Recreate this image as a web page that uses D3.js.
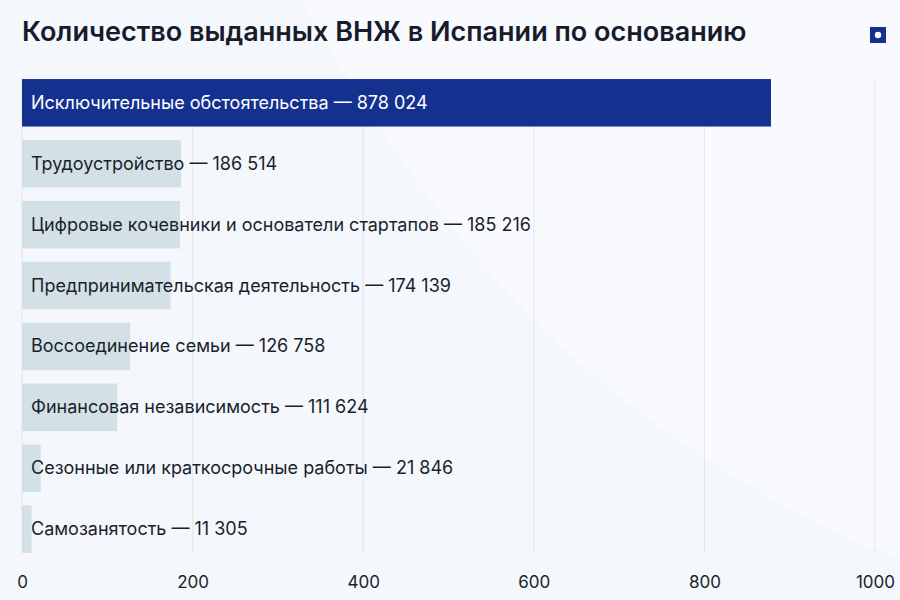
<!DOCTYPE html>
<html><head><meta charset="utf-8">
<script src="https://cdn.jsdelivr.net/npm/d3@7"></script>
<style>body{margin:0;background:#f4f7fb;font-family:Inter,"Noto Sans",sans-serif}</style>
</head><body>
<script>
var categories = ["Исключительные обстоятельства","Трудоустройство","Цифровые кочевники и основатели стартапов","Предпринимательская деятельность","Воссоединение семьи","Финансовая независимость","Сезонные или краткосрочные работы","Самозанятость"];
var values = [878024,186514,185216,174139,126758,111624,21846,11305];
var labels = ["878 024","186 514","185 216","174 139","126 758","111 624","21 846","11 305"];
var ticks = [0,200,400,600,800,1000];

var w = 900, h = 600;
var svg = d3.select("body").append("svg").attr("width", w).attr("height", h);

svg.append("rect").attr("width", w).attr("height", h).attr("fill", "#f4f7fb");
svg.append("path").attr("d", "M300,0 C420,200 560,420 900,560 L900,0 Z").attr("fill", "#f8fafd");

svg.append("text").attr("x", 22).attr("y", 41).text("Количество выданных ВНЖ в Испании по основанию")
    .attr("font-size", 27).attr("font-weight", 600).attr("fill", "#161c2b");
svg.append("rect").attr("x", 870).attr("y", 27).attr("width", 16).attr("height", 16).attr("fill", "#14318f");
svg.append("circle").attr("cx", 878).attr("cy", 35).attr("r", 3.2).attr("fill", "#fff");

var x = d3.scaleLinear().domain([0, 1000]).range([22, 875]);
var y = d3.scaleBand().domain(categories).range([76, 556]).paddingInner(0.22).paddingOuter(0.05);

svg.selectAll(".grid").data(ticks).enter().append("line")
    .attr("x1", d => x(d)).attr("x2", d => x(d)).attr("y1", 79).attr("y2", 552)
    .attr("stroke", "#e3e7ee").attr("stroke-width", 1);

svg.selectAll(".bar").data(values).enter().append("rect")
    .attr("x", x(0)).attr("y", (d, i) => y(categories[i]))
    .attr("width", d => x(d / 1000) - x(0)).attr("height", y.bandwidth())
    .attr("fill", (d, i) => i === 0 ? "#14318f" : "#d3e1e6");

svg.selectAll(".lbl").data(categories).enter().append("text")
    .attr("x", 31).attr("y", d => y(d) + y.bandwidth() / 2 + 6)
    .text((d, i) => d + " — " + labels[i])
    .attr("font-size", 18).attr("fill", (d, i) => i === 0 ? "#fff" : "#1a1f2c");

svg.append("g").attr("transform", "translate(0,573)")
    .call(d3.axisBottom(x).tickValues(ticks).tickFormat(d3.format("d")).tickSize(0))
    .call(g => g.select(".domain").remove())
    .selectAll("text").attr("font-size", 17).attr("fill", "#1a1f2c").attr("font-family", "Inter,sans-serif");
</script>
</body></html>
